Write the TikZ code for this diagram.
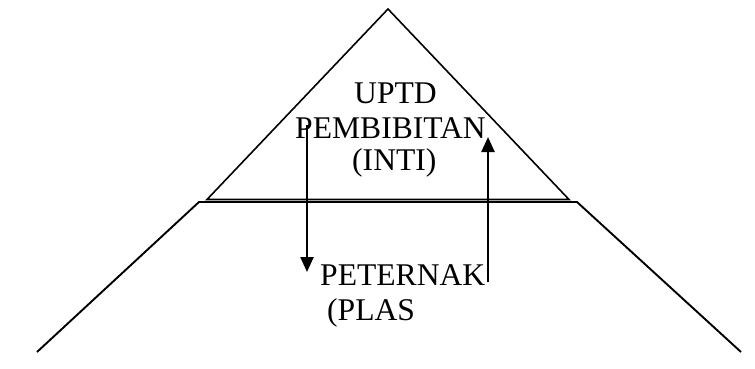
\documentclass[tikz,border=0pt]{standalone}
\usepackage{fontspec}
\setmainfont{Liberation Serif}
\usetikzlibrary{arrows.meta}
\tikzset{
  outline/.style={line width=1.6pt, black},
  flow/.style={line width=2.4pt, black, -{Triangle[length=15pt,width=13pt]}},
  label/.style={anchor=base west, inner sep=0pt, font=\fontsize{31.6}{36}\selectfont}
}
\begin{document}
\begin{tikzpicture}[x=1pt,y=-1pt]
\useasboundingbox (0,0) rectangle (755,369);
% upper triangle (core)
\coordinate (apex) at (388,9);
\coordinate (tl) at (207,199.5);
\coordinate (tr) at (569,199.5);
\draw[outline] (tl) -- (apex) -- (tr) -- cycle;
% lower trapezoid (plasma)
\coordinate (bl) at (37,352);
\coordinate (ul) at (199,202);
\coordinate (ur) at (577,202);
\coordinate (br) at (741,352);
\draw[outline, line width=1.9pt] (bl) -- (ul) -- (ur) -- (br);
% labels
\node[label] (uptd) at (354,103) {UPTD};
\node[label] (pemb) at (295,138) {PEMBIBITAN};
\node[label] (inti) at (352,170) {(INTI)};
\node[label] (peternak) at (320,285) {PETERNAK};
\node[label] (plas) at (327,320) {(PLAS};
% flows between core and plasma
\coordinate (dstart) at (307,125);
\coordinate (dend) at (307,272);
\coordinate (ustart) at (488,282);
\coordinate (uend) at (488,137);
\draw[flow] (dstart) -- (dend);
\draw[flow] (ustart) -- (uend);
\end{tikzpicture}
\end{document}
